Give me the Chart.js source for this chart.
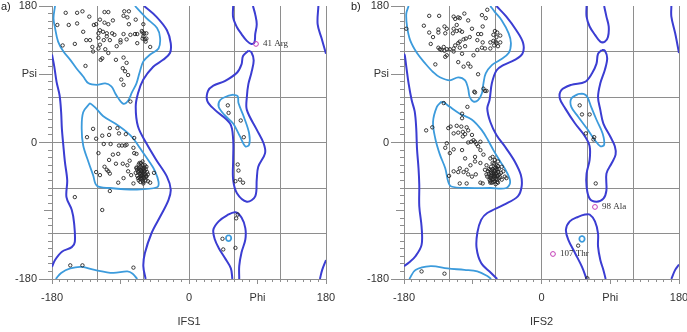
<!DOCTYPE html>
<html><head><meta charset="utf-8">
<script src="https://cdn.jsdelivr.net/npm/chart.js@4.4.1/dist/chart.umd.min.js"></script>
<style>
html,body{margin:0;padding:0;background:#fff;width:687px;height:332px;overflow:hidden}
.panel{position:absolute;top:0;height:332px}
#wa{left:0;width:343px}
#wb{left:344px;width:343px}
.tag{position:absolute;top:-1px;font:11px "Liberation Sans",Arial,sans-serif;color:#222;line-height:14px}
</style></head><body>
<div class="panel" id="wa"><canvas id="ca" width="343" height="332"></canvas></div>
<div class="panel" id="wb"><canvas id="cb" width="343" height="332"></canvas></div>
<div class="tag" style="left:1px">a)</div>
<div class="tag" style="left:351px">b)</div>
<script>
// ---------- tick labels ----------
const xLabelValues = [-180, 0, 90, 180];
const xLabelTexts = ['-180', '0', 'Phi', '180'];
const yLabelValues = [180, 90, 0, -180];
const yLabelTexts = ['180', 'Psi', '0', '-180'];
const panelTitles = ['IFS1', 'IFS2'];

// ---------- panel a : residues [phi, psi] ----------
const a_beta = [[-162,171],[-147,171],[-140,173],[-131,166],[-111,172],[-106,172],[-85,173],[-79,173],[-173,155],[-158,155],[-147,157],[-139,146],[-125,155],[-122,156],[-117,162],[-111,158],[-106,156],[-100,161],[-86,167],[-81,165],[-79,156],[-70,162],[-60,156],[-166,128],[-150,130],[-135,135],[-130,135],[-127,126],[-126,120],[-119,138],[-119,144],[-117,148],[-113,146],[-108,144],[-101,144],[-112,135],[-108,140],[-98,142],[-104,135],[-90,135],[-86,143],[-82,136],[-90,132],[-77,142],[-71,143],[-68,143],[-62,147],[-61,145],[-59,144],[-56,144],[-60,140],[-58,136],[-57,133],[-51,126],[-116,109],[-114,111],[-117,129],[-119,124],[-110,123],[-106,118],[-95,127],[-86,112],[-96,109],[-82,105],[-80,89],[-84,94],[-89,83],[-86,76],[-136,101],[-77,54],[-68,131],[-61,137],[-56,137],[-87,98]];
const a_alpha = [[-126,18],[-134,7],[-122,5],[-119,-14],[-114,9],[-104,19],[-105,10],[-94,19],[-92,12],[-83,11],[-72,6],[-112,-2],[-103,-2],[-92,-4],[-88,-4],[-84,-4],[-82,-3],[-93,-15],[-100,-16],[-105,-23],[-96,-28],[-87,-28],[-81,-30],[-78,-24],[-72,-14],[-73,-7],[-69,-15],[-122,-39],[-117,-43],[-111,-32],[-108,-36],[-106,-38],[-104,-41],[-93,-53],[-86,-47],[-80,-38],[-76,-43],[-73,-54],[-69,-34],[-65,-27],[-46,-40],[-56,-45],[-54,-51],[-51,-53],[-60,-54],[-104,-64],[-150,-72],[-114,-89]];
const a_cluster = [[-62,-38],[-60,-40],[-64,-36],[-58,-42],[-66,-34],[-63,-44],[-57,-35],[-61,-30],[-65,-41],[-59,-47],[-67,-39],[-55,-39],[-62,-33],[-60,-45],[-64,-48],[-58,-30],[-68,-44],[-56,-44],[-63,-27],[-61,-50],[-66,-29],[-59,-37],[-63,-41],[-57,-50],[-65,-46],[-60,-35],[-62,-43],[-54,-42],[-68,-36],[-61,-25],[-64,-32],[-58,-38],[-66,-50],[-60,-52],[-70,-40],[-63,-37],[-59,-33],[-62,-47],[-56,-32],[-65,-38],[-67,-47],[-61,-42],[-57,-46],[-64,-52],[-69,-33]];
const a_other = [[51,49],[52,39],[68,29],[72,7],[64,-29],[65,-37],[61,-51],[67,-49],[71,-53],[62,-100],[64,-95],[44,-127],[45,-141],[61,-139],[-156,-162],[-140,-162],[-73,-165]];
const a_outliers = [[88,130]];
const a_outlierNames = ['41 Arg'];

// ---------- panel a : contours ----------
const a_allowed = [
  [[-59,180],[-43,166],[-29,148],[-24,131],[-25,118],[-34,109],[-47,100],[-60,83],[-67,65],[-70,47],[-67,21],[-56,-1],[-43,-23],[-29,-45],[-24,-62],[-27,-76],[-38,-98],[-49,-119],[-58,-146],[-60,-163],[-57,-180]],
  [[-180,116],[-177,100],[-174,80],[-170,62],[-168,40],[-167,18],[-165,-5],[-163,-26],[-160,-50],[-161,-72],[-154,-89],[-151,-106],[-150,-131],[-154,-138],[-167,-144],[-176,-155],[-180,-164]],
  [[58,180],[58,165],[63,152],[69,143],[76,134],[82,130],[86,132],[87,143],[89,156],[87,169],[84,180]],
  [[78,121],[71,114],[69,103],[63,92],[47,81],[32,75],[25,68],[24,55],[34,43],[54,25],[58,4],[58,-23],[58,-49],[63,-67],[76,-78],[87,-71],[89,-49],[91,-32],[100,-14],[98,-1],[89,17],[76,43],[76,60],[78,77],[82,92],[85,108],[82,119],[78,121]],
  [[57,-180],[55,-166],[47,-152],[39,-139],[34,-128],[32,-115],[39,-104],[50,-96],[61,-92],[69,-99],[74,-113],[74,-128],[69,-145],[66,-163],[66,-180]],
  [[170,180],[169,156],[174,138],[180,117]],
  [[180,-155],[175,-168],[172,-180]]
];
const a_favoured = [
  [[-176,180],[-178,164],[-176,151],[-172,133],[-165,120],[-156,109],[-148,98],[-139,87],[-132,78],[-121,76],[-110,78],[-102,74],[-97,65],[-94,60],[-86,51],[-80,55],[-75,66],[-69,78],[-65,92],[-60,107],[-51,116],[-40,124],[-38,138],[-42,151],[-56,164],[-71,180]],
  [[-130,52],[-139,40],[-141,18],[-139,-4],[-132,-26],[-126,-43],[-121,-57],[-104,-60],[-69,-62],[-42,-59],[-40,-52],[-45,-37],[-53,-24],[-64,-8],[-73,5],[-82,14],[-97,25],[-113,35],[-123,46],[-130,52]],
  [[58,63],[50,61],[41,56],[39,47],[47,36],[58,25],[67,8],[74,-5],[79,-3],[79,12],[72,34],[65,52],[64,61],[58,63]],
  [[52,-122],[55,-124],[55,-128],[52,-130],[49,-128],[49,-124],[52,-122]],
  [[-175,-180],[-168,-172],[-156,-166],[-141,-164],[-124,-168],[-100,-172],[-81,-170],[-74,-173],[-68,-180]]
];

// ---------- panel b : residues [phi, psi] ----------
const b_beta = [[-177,150],[-147,167],[-134,167],[-154,154],[-147,145],[-142,139],[-145,130],[-135,149],[-135,145],[-127,153],[-124,150],[-126,144],[-115,166],[-113,163],[-109,165],[-107,164],[-101,170],[-96,161],[-111,155],[-115,150],[-116,144],[-111,147],[-107,148],[-104,146],[-91,150],[-102,136],[-99,137],[-94,139],[-107,133],[-109,131],[-113,128],[-100,127],[-78,168],[-71,175],[-73,164],[-77,153],[-83,143],[-79,143],[-84,135],[-77,132],[-67,132],[-63,134],[-61,147],[-58,145],[-63,142],[-59,139],[-54,141],[-60,133],[-54,132],[-59,131],[-57,127],[-62,128],[-67,124],[-74,124],[-78,125],[-84,122],[-89,115],[-104,117],[-107,125],[-115,124],[-115,120],[-120,123],[-124,123],[-127,121],[-131,122],[-135,125],[-133,123],[-128,126],[-124,115],[-126,113],[-139,103],[-109,106],[-102,100],[-96,104],[-93,100],[-83,90],[-88,67],[-87,66],[-76,71],[-74,68],[-72,68]];
const b_alpha = [[-128,52],[-97,47],[-104,38],[-104,32],[-151,16],[-143,20],[-122,19],[-119,21],[-111,22],[-105,21],[-98,20],[-115,12],[-109,13],[-103,14],[-103,8],[-100,11],[-96,16],[-91,10],[-89,3],[-92,1],[-96,0],[-87,1],[-85,-2],[-80,1],[-83,-5],[-124,-1],[-126,-7],[-115,-9],[-120,-14],[-104,-10],[-100,-21],[-87,-19],[-80,-10],[-76,-16],[-87,-25],[-80,-27],[-93,-30],[-98,-36],[-107,-34],[-109,-39],[-102,-39],[-115,-38],[-121,-44],[-96,-42],[-86,-42],[-91,-45],[-107,-54],[-98,-54],[-80,-53],[-77,-54],[-67,-21],[-64,-19],[-61,-23],[-57,-25],[-52,-32],[-50,-38],[-48,-45],[-46,-47],[-72,-30],[-74,-36],[-67,-53],[-57,-53],[-52,-49]];
const b_cluster = [[-63,-40],[-61,-38],[-65,-42],[-59,-44],[-67,-36],[-62,-46],[-57,-39],[-60,-33],[-66,-47],[-58,-49],[-69,-41],[-55,-42],[-64,-35],[-61,-51],[-63,-44],[-59,-30],[-68,-46],[-56,-47],[-62,-28],[-60,-48],[-66,-32],[-58,-36],[-64,-49],[-57,-44],[-70,-38],[-62,-37],[-60,-41],[-53,-40],[-67,-51],[-63,-52],[-71,-45],[-65,-37],[-59,-35],[-61,-44],[-56,-35],[-66,-40],[-68,-49],[-62,-42],[-58,-52],[-64,-27],[-72,-42],[-54,-46],[-60,-55],[-65,-53],[-69,-35],[-57,-31],[-63,-48],[-61,-34],[-66,-44],[-59,-41]];
const b_other = [[50,49],[53,37],[63,37],[58,12],[69,7],[68,4],[71,-54],[48,-136],[60,-179],[-157,-170],[-127,-173]];
const b_outliers = [[70,-85],[15,-147]];
const b_outlierNames = ['98 Ala', '107 Thr'];

// ---------- panel b : contours ----------
const b_allowed = [
  [[-59,180],[-46,166],[-33,148],[-24,131],[-25,117],[-35,109],[-50,102],[-59,95],[-65,78],[-68,56],[-71,45],[-67,27],[-59,10],[-46,-8],[-35,-25],[-27,-43],[-26,-58],[-31,-71],[-49,-82],[-71,-93],[-79,-102],[-84,-119],[-85,-139],[-79,-159],[-66,-172],[-58,-180]],
  [[-180,117],[-179,115],[-177,100],[-174,78],[-170,56],[-166,41],[-164,19],[-163,-8],[-161,-34],[-160,-56],[-160,-84],[-157,-111],[-157,-135],[-165,-150],[-173,-158],[-180,-163]],
  [[59,180],[59,166],[63,153],[70,142],[77,133],[83,133],[87,139],[88,153],[85,166],[82,180]],
  [[79,122],[74,117],[72,104],[66,91],[57,80],[39,76],[26,69],[24,58],[31,45],[44,25],[57,8],[63,-5],[63,-23],[59,-41],[59,-58],[63,-74],[72,-78],[81,-74],[85,-63],[85,-41],[92,-27],[97,-16],[96,-5],[90,8],[81,25],[77,43],[74,60],[77,78],[83,96],[86,111],[83,121],[79,122]],
  [[59,-180],[53,-164],[44,-146],[35,-128],[32,-115],[37,-104],[48,-98],[57,-95],[63,-95],[70,-104],[74,-120],[74,-137],[77,-155],[81,-168],[84,-180]],
  [[170,180],[170,166],[175,144],[180,118]],
  [[180,-161],[175,-168],[170,-180]]
];
const b_favoured = [
  [[-174,180],[-177,170],[-176,153],[-172,135],[-163,118],[-152,104],[-142,93],[-133,86],[-120,82],[-109,86],[-100,82],[-96,71],[-94,60],[-89,54],[-83,56],[-78,65],[-76,78],[-73,91],[-65,102],[-54,109],[-43,118],[-40,131],[-43,144],[-52,161],[-61,172],[-67,180]],
  [[-131,54],[-137,47],[-142,27],[-139,5],[-133,-16],[-126,-34],[-122,-52],[-118,-58],[-98,-60],[-67,-60],[-46,-60],[-41,-52],[-46,-38],[-54,-25],[-63,-10],[-70,3],[-78,16],[-91,30],[-107,38],[-120,47],[-128,53],[-131,54]],
  [[48,64],[39,58],[39,47],[48,34],[59,19],[70,3],[77,-5],[82,-3],[80,12],[72,30],[65,47],[60,60],[55,64],[48,64]],
  [[53,-123],[56,-125],[56,-129],[53,-131],[50,-129],[50,-125],[53,-123]],
  [[-173,-180],[-165,-168],[-145,-163],[-123,-166],[-101,-168],[-84,-170],[-71,-176],[-66,-180]]
];

// ---------- styles ----------
const ALLOWED = '#3b3dd2';
const FAVOURED = '#3c9bdc';
const GRID = '#8e8e8e';
const TEXT = '#333333';
const FONT = '"Liberation Sans", Arial, sans-serif';

const toXY = arr => arr.map(p => ({x: p[0], y: p[1]}));
const labelFor = (v, vals, texts) => { const i = vals.indexOf(v); return i >= 0 ? texts[i] : ''; };
const alignPx = p => Math.round(p - 0.5) + 0.5;

const tickMarks = {
  id: 'tickMarks',
  afterDraw(chart) {
    const {ctx} = chart;
    const x = chart.scales.x, y = chart.scales.y;
    ctx.save();
    ctx.strokeStyle = GRID;
    ctx.lineWidth = 1;
    ctx.beginPath();
    y.ticks.forEach(t => {
      const v = t.value;
      const p = alignPx(y.getPixelForValue(v));
      const len = yLabelValues.includes(v) ? 13 : (v % 90 === 0 ? 8 : 4);
      ctx.moveTo(y.right - len, p); ctx.lineTo(y.right, p);
    });
    x.ticks.forEach(t => {
      const v = t.value;
      const p = alignPx(x.getPixelForValue(v));
      const len = v % 90 === 0 ? 5 : 3;
      ctx.moveTo(p, x.top); ctx.lineTo(p, x.top + len);
    });
    ctx.stroke();
    ctx.restore();
  }
};

const noteLabels = {
  id: 'noteLabels',
  afterDatasetsDraw(chart) {
    const ctx = chart.ctx;
    chart.data.datasets.forEach((d, i) => {
      if (!d.notes) return;
      const meta = chart.getDatasetMeta(i);
      ctx.save();
      ctx.font = '9px "Liberation Serif", "Times New Roman", serif';
      ctx.fillStyle = TEXT;
      ctx.textBaseline = 'middle';
      ctx.textAlign = 'left';
      meta.data.forEach((el, j) => ctx.fillText(d.notes[j], el.x + 7, el.y));
      ctx.restore();
    });
  }
};

function makePanel(id, cfg) {
  const datasets = [];
  datasets.push({data: toXY(cfg.outliers), notes: cfg.names, showLine: false, pointRadius: 2.4,
    pointBorderWidth: 1, pointBorderColor: '#c23cb6', pointBackgroundColor: 'rgba(0,0,0,0)', order: 0});
  datasets.push({data: toXY(cfg.points), showLine: false, pointRadius: 1.7,
    pointBorderWidth: 0.9, pointBorderColor: '#262626', pointBackgroundColor: 'rgba(0,0,0,0)', order: 1});
  cfg.favoured.forEach(c => datasets.push({data: toXY(c), showLine: true, borderColor: FAVOURED,
    borderWidth: 1.8, pointRadius: 0, pointHitRadius: 0, tension: 0.35, fill: false, order: 2}));
  cfg.allowed.forEach(c => datasets.push({data: toXY(c), showLine: true, borderColor: ALLOWED,
    borderWidth: 2, pointRadius: 0, pointHitRadius: 0, tension: 0.35, fill: false, order: 3}));

  return new Chart(document.getElementById(id), {
    type: 'scatter',
    data: {datasets},
    plugins: [tickMarks, noteLabels],
    options: {
      responsive: false,
      animation: false,
      events: [],
      layout: {padding: {left: 0, top: 6, right: cfg.padRight, bottom: 0}},
      plugins: {legend: {display: false}, tooltip: {enabled: false}},
      scales: {
        x: {
          type: 'linear', position: 'bottom', min: -180, max: 180,
          afterFit(s) { s.height = 53; s.paddingLeft = 0; s.paddingRight = 0; },
          ticks: {stepSize: 10, autoSkip: false, maxRotation: 0, padding: 12, color: TEXT,
            font: {family: FONT, size: 11}, callback: v => labelFor(v, xLabelValues, xLabelTexts)},
          grid: {drawTicks: false, lineWidth: 1,
            color: c => (c.tick && c.tick.value % 60 === 0) ? GRID : 'rgba(0,0,0,0)'},
          border: {display: true, color: GRID, width: 1},
          title: {display: true, text: cfg.title, color: TEXT, padding: {top: 0, bottom: 3},
            font: {family: FONT, size: 11}}
        },
        y: {
          type: 'linear', position: 'left', min: -180, max: 180,
          afterFit(s) { s.width = cfg.yWidth; s.paddingTop = 0; s.paddingBottom = 0; },
          ticks: {stepSize: 10, autoSkip: false, padding: 15, color: TEXT,
            font: {family: FONT, size: 11}, callback: v => labelFor(v, yLabelValues, yLabelTexts)},
          grid: {drawTicks: false, lineWidth: 1,
            color: c => (c.tick && c.tick.value % 60 === 0 && c.tick.value !== 180) ? GRID : 'rgba(0,0,0,0)'},
          border: {display: true, color: GRID, width: 1}
        }
      }
    }
  });
}

makePanel('ca', {
  title: panelTitles[0], yWidth: 52, padRight: 17,
  points: a_beta.concat(a_alpha, a_cluster, a_other),
  outliers: a_outliers, names: a_outlierNames,
  allowed: a_allowed, favoured: a_favoured
});
makePanel('cb', {
  title: panelTitles[1], yWidth: 60, padRight: 8,
  points: b_beta.concat(b_alpha, b_cluster, b_other),
  outliers: b_outliers, names: b_outlierNames,
  allowed: b_allowed, favoured: b_favoured
});
</script></body></html>
